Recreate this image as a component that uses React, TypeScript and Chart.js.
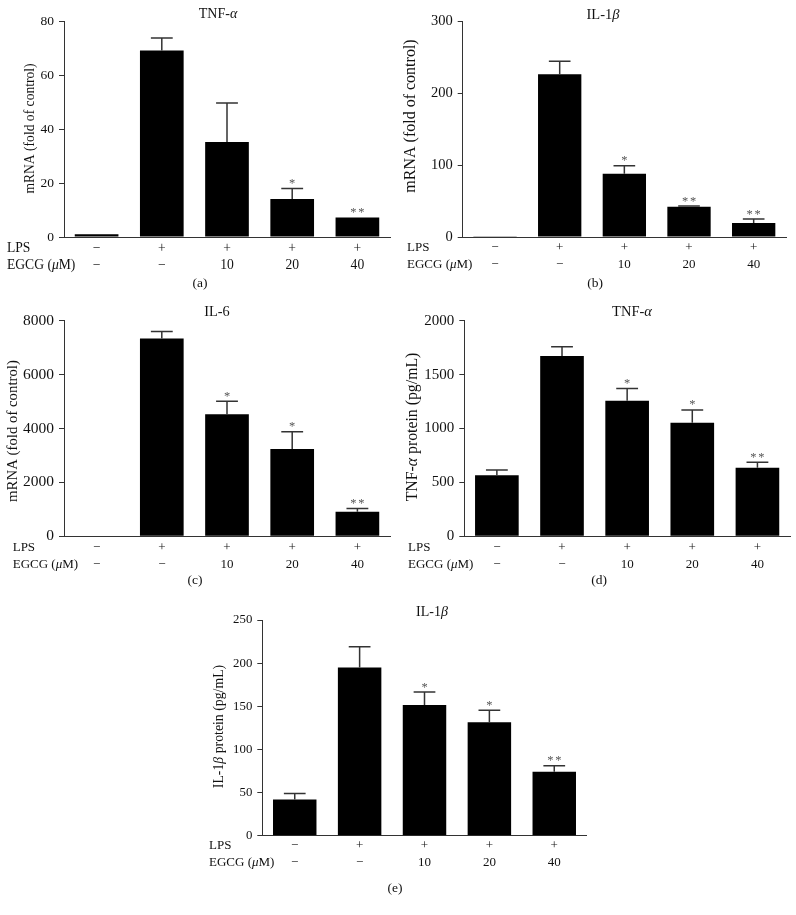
import React, { useEffect, useRef } from "react";
import { Chart, registerables } from "chart.js";

Chart.register(...registerables);

// ---------- data ----------
const lpsRow = ["−", "+", "+", "+", "+"];
const egcgRow = ["−", "−", "10", "20", "40"];

// (a) TNF-α mRNA
const tnfMrnaMean = [1.0, 69.1, 35.2, 14.1, 7.2];
const tnfMrnaSem = [0, 4.6, 14.4, 3.9, 0];
const tnfMrnaStars = ["", "", "", "*", "**"];
const tnfMrnaAxis = [0, 80, 20];

// (b) IL-1β mRNA
const il1MrnaMean = [1, 226, 88, 42, 19.5];
const il1MrnaSem = [0, 18, 11, 1, 5.5];
const il1MrnaStars = ["", "", "*", "**", "**"];
const il1MrnaAxis = [0, 300, 100];

// (c) IL-6 mRNA
const il6MrnaMean = [0, 7340, 4530, 3240, 915];
const il6MrnaSem = [0, 260, 480, 640, 120];
const il6MrnaStars = ["", "", "*", "*", "**"];
const il6MrnaAxis = [0, 8000, 2000];

// (d) TNF-α protein
const tnfProtMean = [566, 1672, 1258, 1054, 637];
const tnfProtSem = [49, 87, 114, 118, 49];
const tnfProtStars = ["", "", "*", "*", "**"];
const tnfProtAxis = [0, 2000, 500];

// (e) IL-1β protein
const il1ProtMean = [42, 195, 151.5, 131.5, 74];
const il1ProtSem = [7, 24, 15, 14, 7];
const il1ProtStars = ["", "", "*", "*", "**"];
const il1ProtAxis = [0, 250, 50];

// ---------- styling ----------
const FONT = '"Liberation Serif", "Times New Roman", serif';
const LH = 17;

type Seg = { t: string; i?: boolean };

function drawRich(ctx: CanvasRenderingContext2D, segs: Seg[], x: number, y: number, size: number, align: "left" | "center") {
  const widths = segs.map((s) => {
    ctx.font = `${s.i ? "italic " : ""}${size}px ${FONT}`;
    return ctx.measureText(s.t).width;
  });
  const total = widths.reduce((a, b) => a + b, 0);
  let cur = align === "center" ? x - total / 2 : x;
  ctx.textBaseline = "middle";
  ctx.textAlign = "left";
  segs.forEach((s, k) => {
    ctx.font = `${s.i ? "italic " : ""}${size}px ${FONT}`;
    ctx.fillText(s.t, cur, y);
    cur += widths[k];
  });
}

const overlayPlugin = {
  id: "overlay",
  afterDatasetsDraw(chart: any, _args: any, o: any) {
    const ctx: CanvasRenderingContext2D = chart.ctx;
    const ys = chart.scales.y;
    const meta = chart.getDatasetMeta(0);
    ctx.save();
    meta.data.forEach((bar: any, i: number) => {
      const mean = o.means[i];
      const sem = o.sems[i];
      const x = bar.x;
      const w = bar.width;
      const top = ys.getPixelForValue(mean + sem);
      if (sem > 0) {
        ctx.strokeStyle = "#333";
        ctx.lineWidth = 1.5;
        ctx.beginPath();
        ctx.moveTo(x, bar.y);
        ctx.lineTo(x, top);
        ctx.moveTo(x - w * 0.25, top);
        ctx.lineTo(x + w * 0.25, top);
        ctx.stroke();
      }
      const s: string = o.stars[i];
      if (s) {
        ctx.fillStyle = "#555";
        ctx.font = `12.5px ${FONT}`;
        ctx.textAlign = "center";
        ctx.textBaseline = "alphabetic";
        const n = s.length;
        for (let k = 0; k < n; k++) {
          ctx.fillText("*", x + (k - (n - 1) / 2) * 8, top - 1.5);
        }
      }
    });
    ctx.restore();
  },
  afterDraw(chart: any, _args: any, o: any) {
    const ctx: CanvasRenderingContext2D = chart.ctx;
    const xs = chart.scales.x;
    ctx.save();
    ctx.fillStyle = "#111";
    drawRich(ctx, o.title, o.titleX, o.titleY, o.titleSize, "center");
    ctx.save();
    ctx.translate(o.yTitleX, o.yTitleY);
    ctx.rotate(-Math.PI / 2);
    drawRich(ctx, o.yTitle, 0, 0, o.yTitleSize, "center");
    ctx.restore();
    const y0 = xs.top + o.xPad + LH / 2;
    drawRich(ctx, [{ t: "LPS" }], o.headerX, y0, o.rowSize, "left");
    drawRich(ctx, [{ t: "EGCG (" }, { t: "μ", i: true }, { t: "M)" }], o.headerX, y0 + LH, o.rowSize, "left");
    drawRich(ctx, [{ t: o.letter }], o.letterX, o.letterY, 13.5, "center");
    ctx.restore();
  },
};

type PanelCfg = {
  left: number; top: number; width: number; height: number;
  area: { l: number; r: number; t: number; b: number };
  title: Seg[]; titleX: number; titleY: number; titleSize: number;
  yTitle: Seg[]; yTitleX: number; yTitleY: number; yTitleSize: number;
  tickSize: number; rowSize: number;
  letter: string; letterX: number; letterY: number;
  headerX: number; xPad: number;
  means: number[]; sems: number[]; stars: string[]; axis: number[];
};

const mrnaTitle: Seg[] = [{ t: "mRNA (fold of control)" }];

const panels: PanelCfg[] = [
  {
    left: 0, top: 0, width: 398, height: 300,
    area: { l: 64, r: 390, t: 21, b: 237 },
    title: [{ t: "TNF-" }, { t: "α", i: true }], titleX: 218, titleY: 14, titleSize: 14,
    yTitle: mrnaTitle, yTitleX: 30, yTitleY: 128.5, yTitleSize: 13.6,
    tickSize: 13.5, rowSize: 13.6,
    letter: "(a)", letterX: 200, letterY: 283,
    headerX: 7, xPad: 3,
    means: tnfMrnaMean, sems: tnfMrnaSem, stars: tnfMrnaStars, axis: tnfMrnaAxis,
  },
  {
    left: 400, top: 0, width: 396, height: 300,
    area: { l: 62.7, r: 386, t: 21, b: 237 },
    title: [{ t: "IL-1" }, { t: "β", i: true }], titleX: 203, titleY: 15, titleSize: 14.5,
    yTitle: mrnaTitle, yTitleX: 11, yTitleY: 116, yTitleSize: 16,
    tickSize: 14.5, rowSize: 13,
    letter: "(b)", letterX: 195, letterY: 283,
    headerX: 7, xPad: 2,
    means: il1MrnaMean, sems: il1MrnaSem, stars: il1MrnaStars, axis: il1MrnaAxis,
  },
  {
    left: 0, top: 300, width: 400, height: 305,
    area: { l: 64, r: 390, t: 20.7, b: 236.3 },
    title: [{ t: "IL-6" }], titleX: 217, titleY: 12.3, titleSize: 14.3,
    yTitle: mrnaTitle, yTitleX: 13.3, yTitleY: 131, yTitleSize: 14.8,
    tickSize: 15.5, rowSize: 13,
    letter: "(c)", letterX: 195, letterY: 280,
    headerX: 12.7, xPad: 3,
    means: il6MrnaMean, sems: il6MrnaSem, stars: il6MrnaStars, axis: il6MrnaAxis,
  },
  {
    left: 400, top: 300, width: 396, height: 305,
    area: { l: 64.3, r: 390, t: 20.7, b: 236.3 },
    title: [{ t: "TNF-" }, { t: "α", i: true }], titleX: 232, titleY: 12.3, titleSize: 14.5,
    yTitle: [{ t: "TNF-" }, { t: "α", i: true }, { t: " protein (pg/mL)" }], yTitleX: 12.7, yTitleY: 127, yTitleSize: 15.8,
    tickSize: 15, rowSize: 13,
    letter: "(d)", letterX: 199, letterY: 280,
    headerX: 8, xPad: 3,
    means: tnfProtMean, sems: tnfProtSem, stars: tnfProtStars, axis: tnfProtAxis,
  },
  {
    left: 180, top: 605, width: 440, height: 310,
    area: { l: 82.3, r: 406.7, t: 15, b: 230.7 },
    title: [{ t: "IL-1" }, { t: "β", i: true }], titleX: 252, titleY: 7.5, titleSize: 14,
    yTitle: [{ t: "IL-1" }, { t: "β", i: true }, { t: " protein (pg/mL)" }], yTitleX: 39, yTitleY: 121.5, yTitleSize: 13.8,
    tickSize: 12.8, rowSize: 13,
    letter: "(e)", letterX: 215, letterY: 283,
    headerX: 29, xPad: 1,
    means: il1ProtMean, sems: il1ProtSem, stars: il1ProtStars, axis: il1ProtAxis,
  },
];

function Panel({ cfg }: { cfg: PanelCfg }) {
  const ref = useRef<HTMLCanvasElement | null>(null);
  useEffect(() => {
    const canvas = ref.current;
    if (!canvas) return;
    const { area } = cfg;
    const chart = new Chart(canvas, {
      type: "bar",
      data: {
        labels: lpsRow.map((l, i) => [l, egcgRow[i]]),
        datasets: [
          {
            data: cfg.means,
            backgroundColor: "#000",
            borderWidth: 0,
            barPercentage: 0.67,
            categoryPercentage: 1,
          },
        ],
      },
      options: {
        responsive: false,
        animation: false,
        devicePixelRatio: 1,
        layout: { padding: { left: 0, right: cfg.width - area.r, top: area.t, bottom: 0 } },
        plugins: {
          legend: { display: false },
          tooltip: { enabled: false },
          overlay: cfg as any,
        } as any,
        scales: {
          x: {
            grid: { display: false, drawTicks: false, tickLength: 0 },
            border: { display: true, color: "#333", width: 1 },
            ticks: {
              color: "#111",
              font: { family: FONT, size: cfg.rowSize, lineHeight: LH / cfg.rowSize },
              padding: cfg.xPad,
              maxRotation: 0,
              autoSkip: false,
            },
            afterFit: (s: any) => { s.height = cfg.height - area.b; },
          },
          y: {
            min: cfg.axis[0],
            max: cfg.axis[1],
            grid: { display: true, drawOnChartArea: false, drawTicks: true, tickLength: 5, color: "#333", lineWidth: 1 },
            border: { display: true, color: "#333", width: 1 },
            ticks: {
              stepSize: cfg.axis[2],
              color: "#111",
              font: { family: FONT, size: cfg.tickSize },
              padding: 5,
              callback: (v: any) => String(v),
            },
            afterFit: (s: any) => { s.width = area.l; },
          },
        },
      },
      plugins: [overlayPlugin],
    });
    return () => chart.destroy();
  }, [cfg]);
  return (
    <canvas
      ref={ref}
      width={cfg.width}
      height={cfg.height}
      style={{ position: "absolute", left: cfg.left, top: cfg.top, width: cfg.width, height: cfg.height }}
    />
  );
}

export default function App() {
  return (
    <div style={{ position: "absolute", left: 0, top: 0, width: 796, height: 915, background: "#fff" }}>
      {panels.map((p, i) => (
        <Panel key={i} cfg={p} />
      ))}
    </div>
  );
}
